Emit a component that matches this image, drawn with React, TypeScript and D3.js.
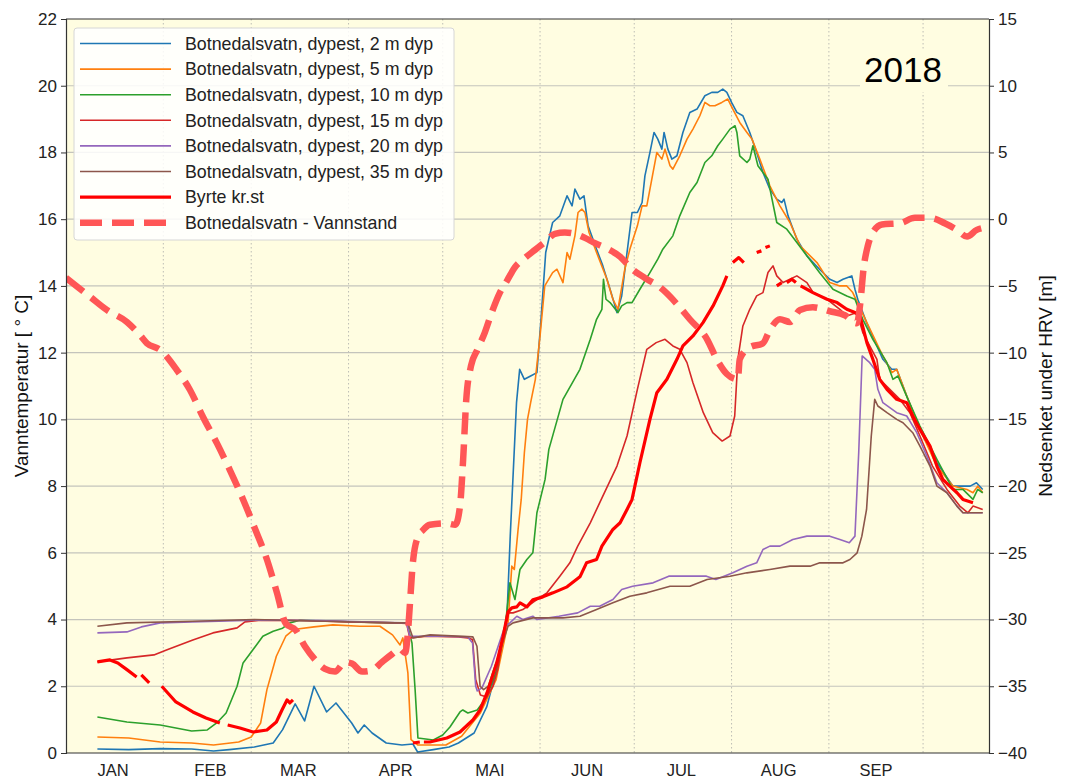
import React, { useEffect, useRef } from 'react';
import * as d3 from 'd3';

// x-verdier er dager etter 1. januar 2018, y-verdier er grader C (vannstand i meter)
const maaneder = ['JAN', 'FEB', 'MAR', 'APR', 'MAI', 'JUN', 'JUL', 'AUG', 'SEP'];
const tempTicks = [0, 2, 4, 6, 8, 10, 12, 14, 16, 18, 20, 22];
const nivaaTicks = [-40, -35, -30, -25, -20, -15, -10, -5, 0, 5, 10, 15];

const dyp2m: [number, number][] = [
  [10, 0.12], [20, 0.1], [30, 0.13], [40, 0.12], [47, 0.06], [52, 0.1], [60, 0.18], [66, 0.3],
  [69, 0.7], [73, 1.47], [76, 0.96], [79, 2.0], [83, 1.23], [86, 1.5], [91, 0.9], [93, 0.6],
  [95, 0.84], [97.5, 0.6], [102, 0.3], [107, 0.24], [110.5, 0.27], [112, 0.03], [117, 0.1],
  [122, 0.18], [125, 0.3], [130, 0.6], [134, 1.38], [138, 2.8], [140.5, 4.2], [141.5, 6.5],
  [142.5, 8.5], [143.5, 10.5], [144.5, 11.5], [146, 11.2], [148, 11.3], [150, 11.4],
  [151.3, 13.0], [152.8, 15.0], [155, 15.9], [157.3, 16.1], [159.6, 16.7], [161.2, 16.4],
  [162.1, 16.9], [163.7, 16.6], [165, 16.7], [166.3, 15.8], [169, 15.1], [171, 14.6],
  [173.3, 13.9], [175.5, 13.2], [177, 13.7], [178.7, 15.0], [180.3, 16.2], [182, 16.2],
  [183.5, 16.5], [184.4, 17.3], [186, 18.0], [187.3, 18.6], [188.5, 18.4], [189.8, 18.1],
  [190.5, 18.6], [191.7, 18.1], [193, 17.8], [194.6, 17.9], [196.5, 18.6], [198.7, 19.2],
  [201, 19.3], [203.5, 19.7], [205.7, 19.8], [207.6, 19.8], [209.2, 19.9], [210.5, 19.8],
  [212, 19.5], [213.7, 19.2], [215.6, 19.1], [217.8, 18.6], [220, 18.0], [222, 17.4],
  [224.2, 16.9], [226.4, 16.6], [228, 16.5], [228.7, 16.6], [230, 16.1], [232.8, 15.4],
  [236, 14.9], [240, 14.5], [243.3, 14.2], [245.6, 14.1], [247.5, 14.2], [250.3, 14.3],
  [251.3, 13.9], [252.2, 13.6], [255, 12.9], [260.2, 11.8], [263, 11.5], [264.6, 11.5],
  [267.8, 10.7], [272, 9.7], [277.4, 8.7], [282.5, 8.0], [285.4, 8.0], [288, 8.0], [290, 8.1],
  [292, 7.9],
];

const dyp5m: [number, number][] = [
  [10, 0.48], [20, 0.45], [30, 0.33], [40, 0.3], [47, 0.24], [55, 0.33], [59, 0.48], [62, 0.9],
  [64, 1.9], [67, 2.9], [70, 3.5], [72.5, 3.7], [79, 3.78], [85, 3.84], [93.6, 3.8], [100, 3.8],
  [104, 3.54], [106.4, 3.24], [107.3, 3.45], [108.9, 2.4], [109.9, 0.4], [112, 0.24],
  [121, 0.24], [126, 0.5], [132, 1.2], [137, 2.2], [140.8, 3.9], [142, 5.6], [142.8, 5.5],
  [144, 6.7], [145, 7.6], [146, 9.0], [147, 10.0], [148, 10.5], [149.5, 11.2], [151, 12.5],
  [152.5, 14.0], [155, 14.4], [156.4, 14.5], [158.3, 14.1], [159.6, 15.0], [160.5, 14.8],
  [162.1, 15.5], [163.1, 16.2], [164.3, 16.3], [165.3, 16.2], [166.6, 15.6], [169, 15.0],
  [172.3, 14.2], [174.2, 13.6], [175.8, 13.3], [178, 14.5], [179.6, 15.1], [182, 15.8],
  [183.5, 16.4], [185, 16.4], [186.6, 17.2], [188.2, 18.0], [189.8, 17.8], [190.8, 18.1],
  [192.4, 17.6], [193.3, 17.5], [195.5, 17.9], [197.8, 18.4], [199.7, 18.7], [201.9, 19.1],
  [203.5, 19.5], [205.1, 19.4], [206.7, 19.4], [208.9, 19.5], [210.8, 19.6], [212.4, 19.3],
  [214.6, 18.9], [216.9, 18.6], [218.5, 18.4], [221, 17.8], [224.2, 17.0], [227.4, 16.4],
  [230.6, 15.9], [233.8, 15.2], [239.2, 14.7], [243.3, 14.1], [246.5, 14.0], [248.7, 14.0],
  [250.6, 13.8], [255.1, 12.9], [260.2, 11.9], [263.1, 11.4], [264.6, 11.5], [267.8, 10.7],
  [272, 9.7], [277.4, 8.6], [282.5, 8.0], [287, 7.9], [288.9, 7.8], [290.4, 8.0], [292, 7.8],
];

const dyp10m: [number, number][] = [
  [10, 1.08], [19.4, 0.93], [30, 0.84], [40, 0.66], [45, 0.69], [48, 0.9], [51, 1.2],
  [54.5, 2.0], [56.4, 2.7], [59.6, 3.1], [62.7, 3.5], [66, 3.65], [69, 3.74], [71.3, 3.9],
  [74.5, 3.98], [85, 3.95], [95, 3.92], [105, 3.9], [108.6, 3.9], [110.2, 3.3], [111.2, 1.9],
  [112.1, 0.45], [117, 0.39], [120, 0.54], [122.3, 0.78], [125.5, 1.23], [126.4, 1.29],
  [128, 1.2], [131, 1.29], [134, 1.68], [137.3, 2.5], [139.8, 3.7], [141.4, 5.1], [143, 4.6],
  [144.6, 5.5], [146.8, 5.8], [148.7, 6.0], [150, 7.2], [152.6, 8.2], [153.8, 9.1],
  [158.3, 10.6], [163.7, 11.5], [167, 12.4], [169, 13.0], [170.7, 13.3], [171.2, 14.2],
  [172, 13.6], [173.3, 13.5], [175, 13.3], [175.8, 13.2], [177, 13.4], [178.7, 13.5],
  [180.3, 13.5], [182.8, 13.9], [186, 14.4], [188.5, 14.8], [190.1, 15.1], [193.3, 15.5],
  [195.5, 16.1], [198.7, 16.8], [201, 17.1], [203.5, 17.7], [205.7, 17.9], [207.6, 18.2],
  [209.2, 18.4], [211.5, 18.7], [213.1, 18.8], [213.7, 18.6], [214.6, 17.9], [216.9, 17.7],
  [217.8, 17.8], [218.8, 18.2], [220.4, 17.6], [222, 17.4], [223.6, 17.2], [226.4, 15.9],
  [229.6, 15.7], [232.8, 15.3], [236, 14.9], [240, 14.4], [244.3, 13.9], [248.7, 13.7],
  [251.3, 13.6], [253.8, 13.0], [257, 12.4], [261.5, 11.7], [263.4, 11.2], [265, 11.3],
  [268.2, 10.6], [272, 9.8], [277.4, 8.8], [282.5, 7.9], [285.7, 7.9], [288.9, 7.6],
  [290.4, 7.9], [292, 7.8],
];

const dyp15m: [number, number][] = [
  [10, 2.73], [19.4, 2.85], [28, 2.94], [32, 3.09], [40.4, 3.39], [46.8, 3.6], [54.5, 3.75],
  [57, 3.93], [62, 3.98], [75, 3.97], [90, 3.93], [105, 3.9], [108.5, 3.88], [109.5, 3.45],
  [115, 3.5], [125, 3.48], [128, 3.45], [129.5, 3.4], [130.5, 2.2], [132, 1.74], [134, 1.68],
  [136, 2.0], [137.5, 2.5], [139.8, 3.8], [141, 4.2], [142.4, 4.2], [145.5, 4.3], [150, 4.6],
  [153.2, 4.8], [157.3, 5.3], [160.5, 5.7], [163, 6.2], [167, 6.9], [170.5, 7.6], [175.5, 8.6],
  [178.7, 9.5], [182, 10.9], [185, 12.1], [188, 12.3], [190.8, 12.4], [193.3, 12.2],
  [195.5, 12.1], [197.8, 11.7], [199.7, 11.1], [203, 10.2], [206, 9.6], [209, 9.35],
  [211.5, 9.5], [213, 10.1], [214, 11.8], [215.6, 12.8], [217.8, 13.3], [220, 13.7],
  [222, 13.8], [223.6, 14.4], [225.2, 14.6], [226.4, 14.3], [228.4, 14.1], [232.8, 14.3],
  [236, 14.1], [238, 13.8], [242.4, 13.6], [246.5, 13.3], [248.7, 13.1], [251.9, 13.2],
  [253.8, 12.6], [256, 12.2], [258.3, 11.8], [259.2, 11.2], [262.4, 10.9], [265.6, 10.6],
  [268.8, 10.2], [272, 9.5], [276, 8.6], [280.6, 7.9], [284.7, 7.4], [287.3, 7.2],
  [288.9, 7.4], [292, 7.3],
];

const dyp20m: [number, number][] = [
  [10, 3.6], [19.4, 3.63], [24, 3.78], [30, 3.9], [40, 3.93], [60, 3.98], [80, 3.97],
  [100, 3.92], [108.5, 3.9], [109.5, 3.5], [120, 3.5], [128, 3.48], [129.5, 3.3], [130.5, 2.0],
  [131, 1.86], [132.5, 1.95], [135.5, 2.6], [139.8, 3.8], [141.4, 3.9], [143.6, 4.1],
  [145.5, 4.0], [148.7, 4.1], [150, 4.0], [157, 4.1], [163, 4.2], [167, 4.4], [170, 4.4],
  [174.2, 4.6], [177, 4.9], [180.5, 5.0], [187, 5.1], [192, 5.3], [196.5, 5.3], [204, 5.3],
  [207, 5.2], [212.4, 5.4], [216.9, 5.6], [220, 5.7], [222, 6.1], [224.2, 6.2], [227.4, 6.2],
  [231.5, 6.4], [236, 6.5], [239, 6.5], [243.3, 6.5], [246.5, 6.4], [249.5, 6.3], [251.3, 6.5],
  [252.5, 9.0], [253.6, 11.9], [256, 11.7], [257.6, 11.5], [258.6, 10.9], [260.2, 10.5],
  [264.6, 10.2], [267.8, 10.1], [271, 9.6], [274.2, 8.9], [277.4, 8.1], [280.6, 7.8],
  [283.8, 7.4], [285.7, 7.2], [292, 7.2],
];

const dyp35m: [number, number][] = [
  [10, 3.8], [19.4, 3.9], [40.4, 3.95], [60, 4.0], [83, 3.95], [104, 3.9], [108.9, 3.9],
  [110.5, 3.45], [116, 3.54], [129.6, 3.48], [130.9, 3.2], [131.9, 2.0], [133, 1.9],
  [134.5, 2.0], [140.8, 3.8], [142.4, 3.9], [148.7, 4.05], [158.3, 4.05], [163.7, 4.1],
  [169, 4.3], [174.2, 4.5], [179.6, 4.7], [185, 4.8], [192.4, 5.0], [198.7, 5.0], [204.2, 5.2],
  [211.5, 5.3], [216.9, 5.4], [224.2, 5.5], [230.6, 5.6], [237, 5.6], [240.1, 5.7],
  [247.5, 5.7], [249.7, 5.8], [252, 6.0], [253.5, 6.5], [255, 7.3], [256.5, 9.5],
  [257.6, 10.6], [258.6, 10.4], [261.5, 10.2], [264.6, 10.0], [266.6, 9.9], [269.7, 9.6],
  [272, 9.2], [275.2, 8.6], [277.4, 8.0], [280.6, 7.8], [283.8, 7.4], [285.7, 7.2], [292, 7.2],
];

// null = mangler data (hull i kurven)
const byrte: [number, number | null][] = [
  [10, 2.73], [14, 2.79], [16.5, 2.7], [19.4, 2.5], [22.5, 2.28], [23, null],
  [24, 2.34], [26.5, 2.1], [27, null],
  [30.5, 2.0], [35, 1.53], [40.4, 1.23], [44.6, 1.05], [49, 0.9], [50, null],
  [51.5, 0.84], [55.4, 0.75], [59.6, 0.63], [64, 0.69], [67, 0.93], [68.8, 1.29], [70.4, 1.59],
  [71.3, 1.5], [72.3, 1.59], [73, null],
  [110.5, 0.3], [112.7, 0.33], [113, null],
  [114, 0.33], [115.9, 0.33], [121.3, 0.45], [125.5, 0.63], [129.6, 0.99], [131.9, 1.29],
  [134.1, 1.8], [137.3, 2.73], [139.2, 3.48], [140.8, 4.23], [142, 4.35], [143.6, 4.38],
  [144.6, 4.5], [146.8, 4.38], [148.7, 4.59], [151.9, 4.68], [155.1, 4.8], [159.6, 4.98],
  [163.7, 5.28], [165.8, 5.7], [169, 5.8], [170.7, 6.2], [174.2, 6.7], [176.5, 6.9],
  [178.7, 7.3], [180.3, 7.6], [182.8, 8.7], [186, 10.0], [188.2, 10.8], [191.4, 11.2],
  [194.6, 11.8], [196.5, 12.2], [199.7, 12.5], [202.9, 12.9], [206.1, 13.4], [209.2, 14.0],
  [210.5, 14.3], [211, null],
  [212.4, 14.7], [214.3, 14.85], [215.9, 14.7], [216.5, null],
  [220, 15.0], [221.5, 15.05], [222, null],
  [222.8, 15.15], [224.2, 15.2], [225, null],
  [226.4, 14.0], [228, 14.1], [228.8, null],
  [229.6, 14.1], [231.2, 14.2], [232.5, 14.1], [233.2, null],
  [234, 14.0], [236, 13.9], [237.9, 13.8], [240.1, 13.7], [242.4, 13.6], [245.6, 13.5],
  [248.7, 13.3], [251.3, 13.2], [252.9, 13.1], [255.1, 12.3], [257, 11.8], [259.2, 11.2],
  [261.5, 10.9], [264.6, 10.6], [267.8, 10.5], [269.7, 10.1], [272, 9.7], [275.2, 9.2],
  [277.4, 8.6], [279.3, 8.2], [281.5, 8.0], [283.8, 7.8], [285.7, 7.6], [288.9, 7.5],
];

const vannstand: [number, number][] = [
  [0, -4.4], [7.6, -5.8], [13, -6.8], [19.4, -7.7], [23.6, -8.7], [25.8, -9.3], [30, -9.8],
  [35.3, -11.3], [39.5, -12.8], [43.6, -14.8], [48.1, -16.8], [52.2, -18.8], [56.4, -21.0],
  [60.2, -23.2], [64, -25.5], [67.2, -28.0], [70, -30.3], [73.2, -30.8], [76.1, -32.0],
  [79.3, -33.0], [82.5, -33.7], [85.7, -33.9], [88.9, -33.2], [91.1, -33.3], [94.3, -33.9],
  [97.5, -33.8], [100.6, -33.2], [103.8, -32.6], [106.4, -32.2], [108, -32.5], [108.9, -31.0],
  [109.5, -29.0], [110.5, -25.7], [112.1, -23.8], [113.7, -23.3], [115.9, -22.9],
  [121.3, -22.8], [124, -22.9], [125.5, -21.5], [126.5, -18], [127.5, -13.5], [129, -11],
  [131, -9.8], [133.4, -8.5], [135.6, -7], [138.2, -5.5], [140.5, -4.6], [143, -3.6],
  [146.2, -2.9], [149.4, -2.3], [152.6, -1.7], [155.7, -1.1], [158.9, -1.0], [162.1, -1.1],
  [165.3, -1.4], [168.5, -1.8], [172.3, -2.2], [176.4, -2.8], [180.6, -3.8], [184.4, -4.4],
  [189.2, -5.1], [195.5, -6.6], [198.7, -7.5], [204.2, -9.0], [207.3, -10.5], [210.5, -11.6],
  [214, -12.0], [214.6, -10.5], [217.8, -9.6], [222, -9.3], [224.2, -8.3], [227.4, -7.5],
  [230.6, -7.7], [233.8, -6.8], [237.9, -6.6], [243.3, -6.9], [248.1, -7.2], [251.9, -7.8],
  [252.9, -6.5], [254.1, -3.6], [255.4, -2.0], [257, -1.0], [259.9, -0.4], [265.6, -0.3],
  [270.4, 0.1], [275.2, 0.1], [279.9, -0.3], [283.8, -0.8], [287, -1.3], [290.1, -0.8],
  [294, -0.6],
];

const FONT = '"Liberation Sans", Arial, sans-serif';
const BG = '#fffde1';

const App = () => {
  const ref = useRef<SVGSVGElement>(null);

  useEffect(() => {
    const svg = d3.select(ref.current);
    svg.selectAll('*').remove();

    const W = 1066, H = 780;
    const margin = { top: 19, right: 77, bottom: 27, left: 66 };
    const left = margin.left, right = W - margin.right;
    const top = margin.top, bottom = H - margin.bottom;

    const start = new Date(2018, 0, 1);
    const dag = (d: number) => new Date(start.getTime() + d * 86400000);

    const x = d3.scaleTime().domain([start, dag(294)]).range([left, right]);
    const yT = d3.scaleLinear().domain([0, 22]).range([bottom, top]);
    const yN = d3.scaleLinear().domain([-40, 15]).range([bottom, top]);

    svg.append('rect').attr('x', left).attr('y', top)
      .attr('width', right - left).attr('height', bottom - top).attr('fill', BG);

    // rutenett
    svg.append('g').selectAll('line').data(tempTicks.slice(1, -1)).enter().append('line')
      .attr('x1', left).attr('x2', right).attr('y1', d => yT(d)).attr('y2', d => yT(d))
      .attr('stroke', '#c4c4bc').attr('stroke-width', 1.2);
    svg.append('g').selectAll('line').data(d3.timeMonth.range(new Date(2018, 1, 1), new Date(2018, 9, 2)))
      .enter().append('line')
      .attr('x1', d => x(d)).attr('x2', d => x(d)).attr('y1', top).attr('y2', bottom)
      .attr('stroke', '#bdbdb5').attr('stroke-width', 1).attr('stroke-dasharray', '1.5 2.5');

    // år-tekst med bakgrunn
    svg.append('rect').attr('x', 860).attr('y', 50).attr('width', 88).attr('height', 42).attr('fill', BG);
    svg.append('text').attr('x', 903).attr('y', 82).attr('text-anchor', 'middle')
      .attr('font-family', FONT).attr('font-size', 35).attr('fill', '#000').text('2018');

    svg.append('clipPath').attr('id', 'plot-clip').append('rect')
      .attr('x', left).attr('y', top).attr('width', right - left).attr('height', bottom - top);
    const plot = svg.append('g').attr('clip-path', 'url(#plot-clip)');

    const tempLinje = d3.line<[number, number | null]>()
      .defined(d => d[1] != null)
      .x(d => x(dag(d[0])))
      .y(d => yT(d[1] as number));

    const serier = [
      { navn: 'Botnedalsvatn, dypest, 2 m dyp', data: dyp2m, farge: '#1f77b4', bredde: 1.6, strek: '' },
      { navn: 'Botnedalsvatn, dypest, 5 m dyp', data: dyp5m, farge: '#ff7f0e', bredde: 1.6, strek: '' },
      { navn: 'Botnedalsvatn, dypest, 10 m dyp', data: dyp10m, farge: '#2ca02c', bredde: 1.6, strek: '' },
      { navn: 'Botnedalsvatn, dypest, 15 m dyp', data: dyp15m, farge: '#d62728', bredde: 1.6, strek: '' },
      { navn: 'Botnedalsvatn, dypest, 20 m dyp', data: dyp20m, farge: '#9467bd', bredde: 1.6, strek: '' },
      { navn: 'Botnedalsvatn, dypest, 35 m dyp', data: dyp35m, farge: '#8c564b', bredde: 1.6, strek: '' },
      { navn: 'Byrte kr.st', data: byrte, farge: '#ff0000', bredde: 3.2, strek: '' },
    ];

    serier.forEach(s => {
      plot.append('path').datum(s.data as [number, number | null][])
        .attr('d', tempLinje)
        .attr('fill', 'none').attr('stroke', s.farge).attr('stroke-width', s.bredde)
        .attr('stroke-linejoin', 'round');
    });

    const nivaaLinje = d3.line<[number, number]>()
      .x(d => x(dag(d[0])))
      .y(d => yN(d[1]))
      .curve(d3.curveMonotoneX);
    plot.append('path').datum(vannstand)
      .attr('d', nivaaLinje)
      .attr('fill', 'none').attr('stroke', '#ff5656').attr('stroke-width', 6.5)
      .attr('stroke-dasharray', '22 10');

    // akser
    const yAkseV = svg.append('g').attr('transform', `translate(${left},0)`)
      .call(d3.axisLeft(yT).tickValues(tempTicks).tickSize(5).tickPadding(4).tickFormat(d3.format('d')));
    const yAkseH = svg.append('g').attr('transform', `translate(${right},0)`)
      .call(d3.axisRight(yN).tickValues(nivaaTicks).tickSize(5).tickPadding(4).tickFormat(d3.format('d')));
    [yAkseV, yAkseH].forEach(a => {
      a.selectAll('text').attr('font-family', FONT).attr('font-size', 17).attr('fill', '#222');
      a.selectAll('line').attr('stroke', '#333');
      a.select('.domain').attr('stroke', '#333').attr('stroke-width', 1.2);
    });
    svg.append('line').attr('x1', left).attr('x2', right).attr('y1', bottom).attr('y2', bottom)
      .attr('stroke', '#333').attr('stroke-width', 1.2);
    svg.append('line').attr('x1', left).attr('x2', right).attr('y1', top).attr('y2', top)
      .attr('stroke', '#333').attr('stroke-width', 1.2);

    svg.append('g').selectAll('text').data(maaneder).enter().append('text')
      .attr('x', (d, i) => x(new Date(2018, i, 16)))
      .attr('y', 776).attr('text-anchor', 'middle')
      .attr('font-family', FONT).attr('font-size', 16.5).attr('fill', '#222')
      .text(d => d);

    svg.append('text').attr('transform', `translate(28,${(top + bottom) / 2}) rotate(-90)`)
      .attr('text-anchor', 'middle').attr('font-family', FONT).attr('font-size', 19).attr('fill', '#111')
      .text('Vanntemperatur [ ° C]');
    svg.append('text').attr('transform', `translate(1052,${(top + bottom) / 2}) rotate(-90)`)
      .attr('text-anchor', 'middle').attr('font-family', FONT).attr('font-size', 19).attr('fill', '#111')
      .text('Nedsenket under HRV [m]');

    // tegnforklaring
    const legendItems = [
      ...serier.map(s => ({ navn: s.navn, farge: s.farge, bredde: s.bredde, strek: s.strek })),
      { navn: 'Botnedalsvatn - Vannstand', farge: '#ff5656', bredde: 6.5, strek: '22 10' },
    ];
    const lg = svg.append('g');
    lg.append('rect').attr('x', 74).attr('y', 28).attr('width', 380).attr('height', 212).attr('rx', 3)
      .attr('fill', '#ffffff').attr('fill-opacity', 0.85).attr('stroke', '#d6d6d6');
    legendItems.forEach((it, i) => {
      const yy = 43.5 + i * 25.6;
      lg.append('line').attr('x1', 80).attr('x2', 171).attr('y1', yy).attr('y2', yy)
        .attr('stroke', it.farge).attr('stroke-width', it.bredde)
        .attr('stroke-dasharray', it.strek || null);
      lg.append('text').attr('x', 185).attr('y', yy).attr('dy', '0.35em')
        .attr('font-family', FONT).attr('font-size', 17.8).attr('fill', '#222').text(it.navn);
    });
  }, []);

  return (
    <svg ref={ref} width={1066} height={780}
      style={{ position: 'absolute', left: 0, top: 0, background: '#fff' }} />
  );
};

export default App;
